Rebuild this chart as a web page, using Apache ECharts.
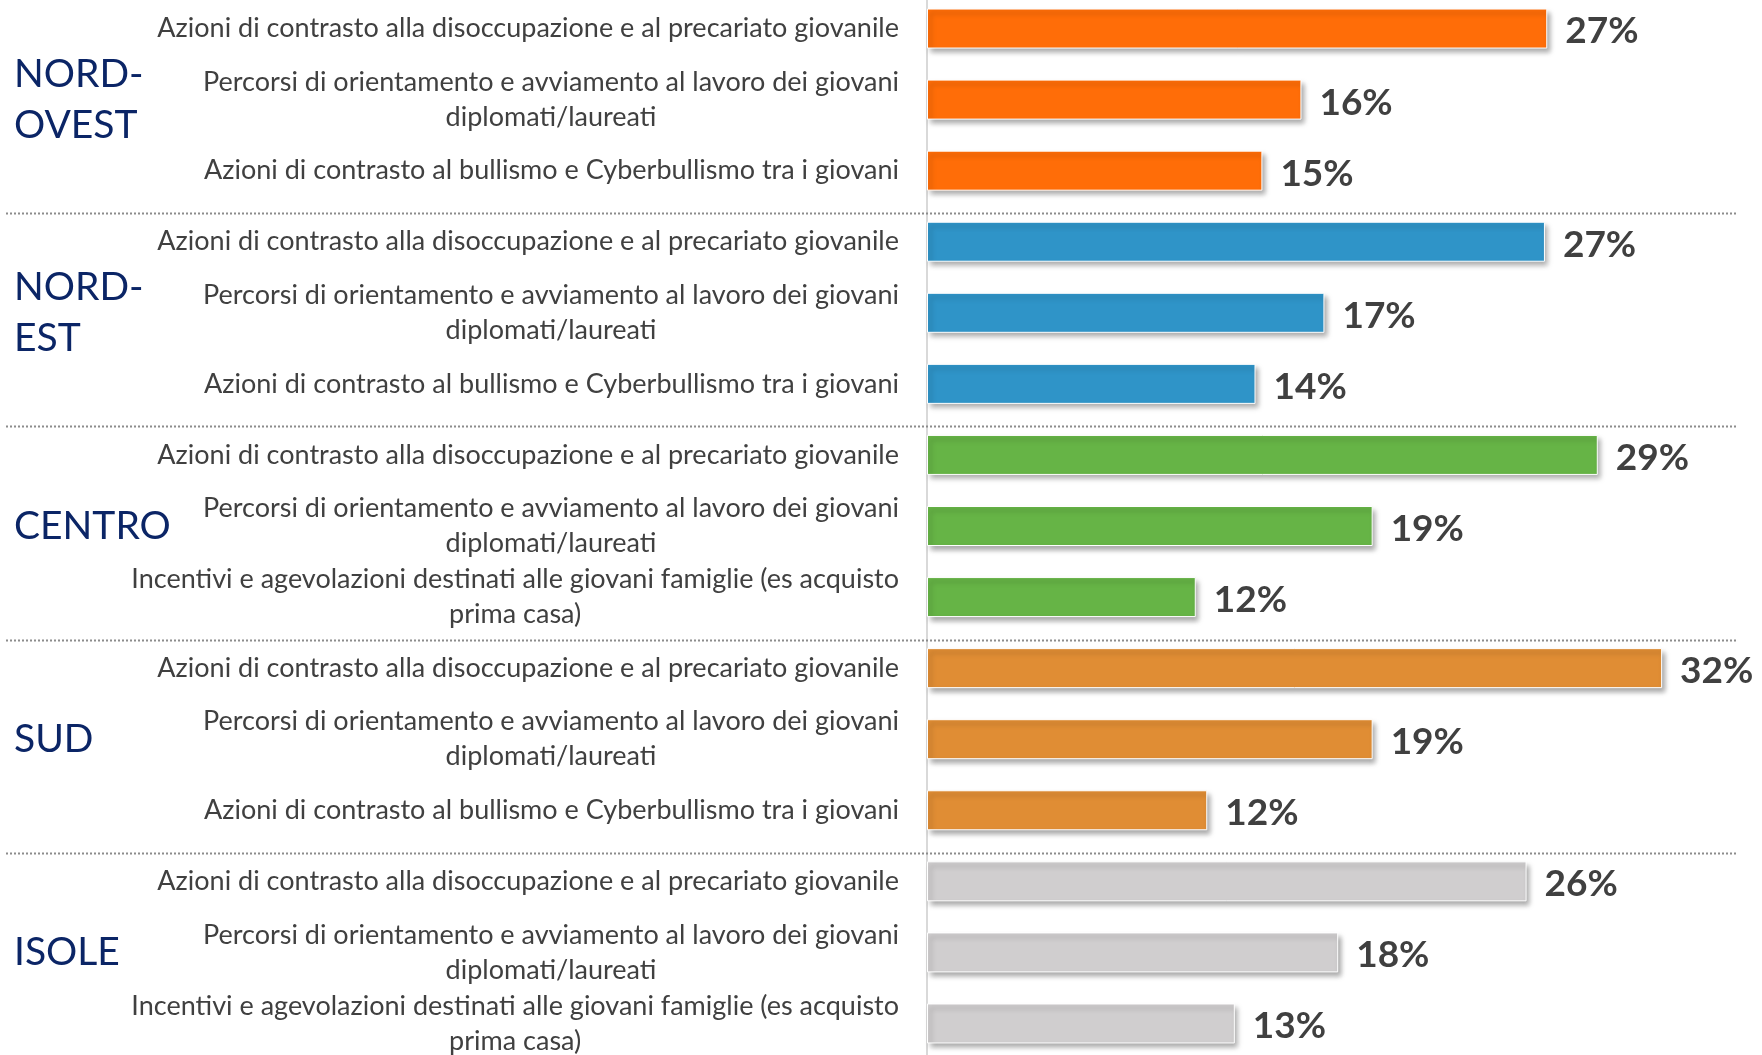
<!DOCTYPE html>
<html>
<head>
<meta charset="utf-8">
<script src="https://cdn.jsdelivr.net/npm/echarts@6/dist/echarts.min.js"></script>
<style>
  html, body { margin: 0; padding: 0; background: #fff; overflow: hidden; }
  #chart { position: absolute; left: 0; top: -7px; width: 1762px; height: 1066px; }
</style>
</head>
<body>
<div id="chart"></div>
<script>
  // etichette delle voci
  var lblDisocc = 'Azioni di contrasto alla disoccupazione e al precariato giovanile'
  var lblPercorsi = 'Percorsi di orientamento e avviamento al lavoro dei giovani\ndiplomati/laureati'
  var lblBullismo = 'Azioni di contrasto al bullismo e Cyberbullismo tra i giovani'
  var lblIncentivi = 'Incentivi e agevolazioni destinati alle giovani famiglie (es acquisto\nprima casa)'

  var groupNames = ['NORD-\nOVEST', 'NORD-\nEST', 'CENTRO', 'SUD', 'ISOLE']
  var groupColors = ['#FF6D08', '#2F94C8', '#66B446', '#E08D34', '#D0CECF']

  var catNordOvest = [lblDisocc, lblPercorsi, lblBullismo]
  var catNordEst = [lblDisocc, lblPercorsi, lblBullismo]
  var catCentro = [lblDisocc, lblPercorsi, lblIncentivi]
  var catSud = [lblDisocc, lblPercorsi, lblBullismo]
  var catIsole = [lblDisocc, lblPercorsi, lblIncentivi]

  var valNordOvest = [27.0, 16.3, 14.6]
  var valNordEst = [26.9, 17.3, 14.3]
  var valCentro = [29.2, 19.4, 11.7]
  var valSud = [32.0, 19.4, 12.2]
  var valIsole = [26.1, 17.9, 13.4]

  var groupCats = [catNordOvest, catNordEst, catCentro, catSud, catIsole]
  var groupVals = [valNordOvest, valNordEst, valCentro, valSud, valIsole]

  // costruzione righe
  var rowLabels = []
  var rowKeys = []
  var rowData = []
  var regionLabels = []
  var sepIndex = []
  for (var g = 0; g < groupCats.length; g++) {
    for (var i = 0; i < groupCats[g].length; i++) {
      rowKeys.push(rowLabels.length + ':' + groupCats[g][i])
      rowLabels.push(groupCats[g][i])
      regionLabels.push(i === 1 ? groupNames[g] : '')
      rowData.push({
        value: groupVals[g][i],
        itemStyle: { color: groupColors[g] }
      })
    }
    if (g < groupCats.length - 1) sepIndex.push(rowLabels.length - 1)
  }

  var textFont = 'Lato, "Open Sans", sans-serif'
  var chart = echarts.init(document.getElementById('chart'))

  chart.setOption({
    animation: false,
    grid: { left: 927, top: 0, width: 827, height: 1066, containLabel: false },
    xAxis: { type: 'value', min: 0, max: 36, show: false },
    yAxis: [
      {
        type: 'category',
        inverse: true,
        data: rowKeys,
        axisLine: { show: true, lineStyle: { color: '#D9D9D9', width: 2 } },
        axisTick: { show: false },
        splitLine: { show: false },
        axisLabel: {
          interval: 0,
          margin: 28,
          formatter: function (value, index) {
            return rowLabels[index].split('\n').map(function (l) {
              return '{c|' + l + '}'
            }).join('\n')
          },
          rich: {
            c: {
              align: 'center',
              fontFamily: textFont,
              fontSize: 27,
              lineHeight: 35,
              color: '#404040'
            }
          }
        }
      },
      {
        type: 'category',
        inverse: true,
        position: 'left',
        data: rowKeys,
        axisLine: { show: false },
        axisTick: { show: false },
        axisLabel: {
          interval: 0,
          align: 'left',
          margin: 913,
          padding: [18, 0, 0, 0],
          fontFamily: textFont,
          fontSize: 39,
          lineHeight: 51,
          color: '#0B2566',
          formatter: function (value, index) {
            return regionLabels[index]
          }
        }
      }
    ],
    series: [
      {
        type: 'bar',
        barWidth: 40,
        data: rowData,
        itemStyle: {
          borderColor: '#ffffff',
          borderWidth: 1,
          shadowColor: 'rgba(0,0,0,0.35)',
          shadowBlur: 5,
          shadowOffsetX: 3,
          shadowOffsetY: 4
        },
        label: {
          show: true,
          position: 'right',
          distance: 18,
          offset: [0, 3],
          fontFamily: textFont,
          fontWeight: 'bold',
          fontSize: 37,
          color: '#404040',
          formatter: function (p) {
            return Math.round(p.value) + '%'
          }
        }
      }
    ]
  })

  // linee tratteggiate tra le aree
  var lines = []
  for (var s = 0; s < sepIndex.length; s++) {
    var y1 = chart.convertToPixel({ yAxisIndex: 0 }, sepIndex[s])
    var y2 = chart.convertToPixel({ yAxisIndex: 0 }, sepIndex[s] + 1)
    var y = Math.round((y1 + y2) / 2 + 7) + 0.5
    lines.push({
      type: 'line',
      shape: { x1: 6, y1: y, x2: 1736, y2: y },
      style: { stroke: '#8C8C8C', lineWidth: 2, lineDash: [2, 2] },
      z: 10
    })
  }
  chart.setOption({ graphic: lines })
</script>
</body>
</html>
